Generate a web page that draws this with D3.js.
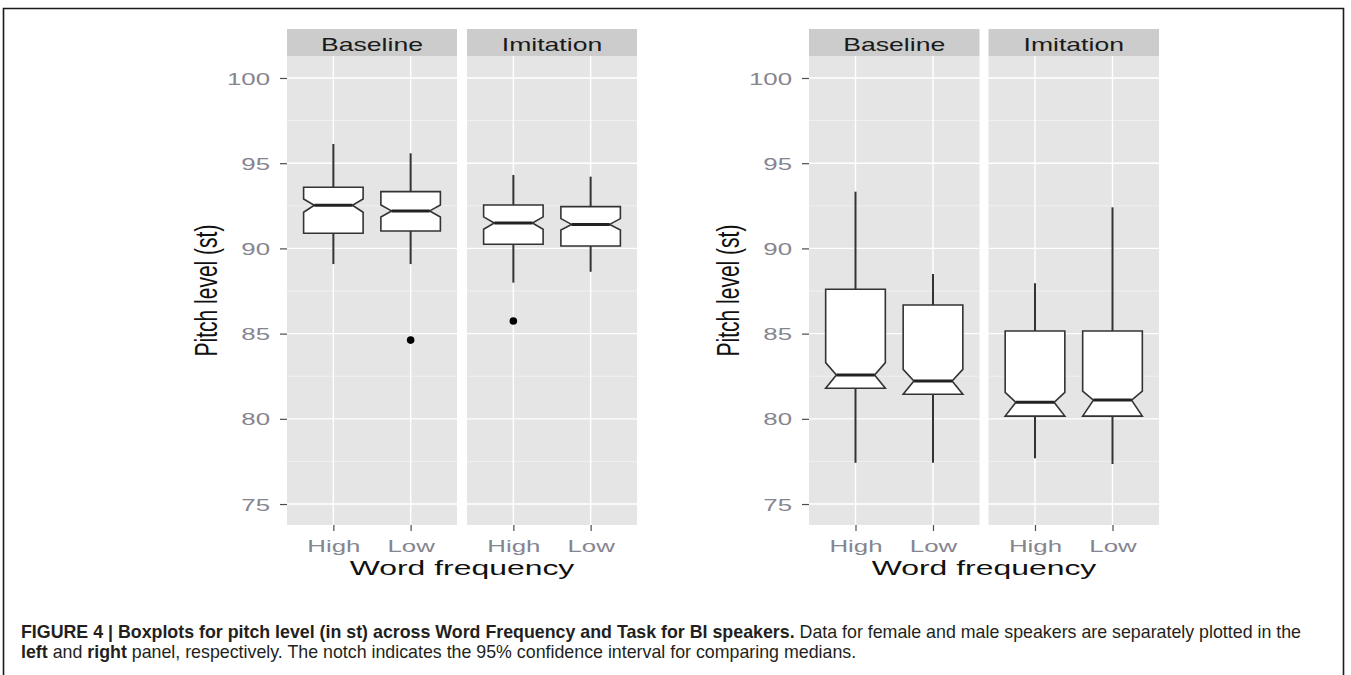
<!DOCTYPE html>
<html><head><meta charset="utf-8">
<script src="https://cdn.jsdelivr.net/npm/d3@7"></script>
<style>body{margin:0;background:#fff}svg{display:block}</style>
</head><body><svg id="c" width="1351" height="675"></svg>
<script>
// ---------------- data ----------------
const frequencies = ["High", "Low"];
const tasks = ["Baseline", "Imitation"];
const yTicks = [75, 80, 85, 90, 95, 100];
const yMinorTicks = [77.5, 82.5, 87.5, 92.5, 97.5];
// order of every array: Baseline-High, Baseline-Low, Imitation-High, Imitation-Low
const femaleLower   = [89.08, 89.08, 87.99, 88.63];
const femaleQ1      = [90.89, 91.02, 90.24, 90.14];
const femaleNotchLo = [92.12, 91.84, 91.12, 91.08];
const femaleMedian  = [92.53, 92.20, 91.49, 91.41];
const femaleNotchHi = [92.90, 92.55, 91.85, 91.75];
const femaleQ3      = [93.59, 93.33, 92.55, 92.45];
const femaleUpper   = [96.13, 95.58, 94.31, 94.21];
const femaleOutliers = [[], [84.62], [85.74], []];

const maleLower   = [77.42, 77.42, 77.68, 77.35];
const maleQ1      = [81.79, 81.44, 80.16, 80.16];
const maleNotchLo = [81.79, 81.44, 80.16, 80.16];
const maleMedian  = [82.57, 82.22, 80.97, 81.10];
const maleNotchHi = [83.30, 82.90, 81.55, 81.62];
const maleQ3      = [87.60, 86.68, 85.15, 85.15];
const maleUpper   = [93.33, 88.50, 87.95, 92.41];
const maleOutliers = [[], [], [], []];

const captionLine1 = [
  ["FIGURE 4 | Boxplots for pitch level (in st) across Word Frequency and Task for BI speakers.", true],
  [" Data for female and male speakers are separately plotted in the", false]
];
const captionLine2 = [
  ["left", true], [" and ", false], ["right", true],
  [" panel, respectively. The notch indicates the 95% confidence interval for comparing medians.", false]
];

function buildStats(lo, q1, nlo, med, nhi, q3, hi, outs) {
  return lo.map((d, i) => ({
    task: tasks[Math.floor(i / 2)], freq: frequencies[i % 2],
    lower: lo[i], q1: q1[i], notchLo: nlo[i], median: med[i],
    notchHi: nhi[i], q3: q3[i], upper: hi[i], outliers: outs[i]
  }));
}
const femaleStats = buildStats(femaleLower, femaleQ1, femaleNotchLo, femaleMedian, femaleNotchHi, femaleQ3, femaleUpper, femaleOutliers);
const maleStats = buildStats(maleLower, maleQ1, maleNotchLo, maleMedian, maleNotchHi, maleQ3, maleUpper, maleOutliers);

// ---------------- layout ----------------
const svg = d3.select("#c");
const SX = 1.52;  // horizontal stretch of the original picture's text
const FONT = "'Liberation Sans', Arial, Helvetica, sans-serif";
const panelTop = 56, panelBottom = 525, stripTop = 29;
const y = d3.scaleLinear().domain([73.77, 101.29]).range([panelBottom, panelTop]);

// outer frame
svg.append("path")
  .attr("d", "M3.5,680 L3.5,8.5 L1343.5,8.5 L1343.5,680")
  .attr("fill", "none").attr("stroke", "#1a1a1a").attr("stroke-width", 1.6);

const plots = [
  { stats: femaleStats, panels: [[287, 457], [467, 637]], yTitleX: 205.5 },
  { stats: maleStats, panels: [[809, 979.5], [988.5, 1159]], yTitleX: 727.5 }
];

plots.forEach(plot => {
  const g = svg.append("g");
  plot.panels.forEach((px, pi) => {
    const task = tasks[pi];
    const x = d3.scalePoint().domain(frequencies).range(px).padding(0.6);
    const step = x.step();
    const boxW = step * 0.77;
    const indent = boxW * 0.18;
    const pg = g.append("g");
    // panel background
    pg.append("rect").attr("x", px[0]).attr("y", panelTop)
      .attr("width", px[1] - px[0]).attr("height", panelBottom - panelTop).attr("fill", "#E5E5E5");
    // strip
    pg.append("rect").attr("x", px[0]).attr("y", stripTop)
      .attr("width", px[1] - px[0]).attr("height", panelTop - stripTop).attr("fill", "#CCCCCC");
    pg.append("text").attr("transform", `translate(${(px[0] + px[1]) / 2},51) scale(${SX},1)`)
      .attr("text-anchor", "middle").attr("font-family", FONT).attr("font-size", 17.5)
      .attr("fill", "#1a1a1a").text(task);
    // grid
    pg.selectAll(".minor").data(yMinorTicks).join("line")
      .attr("x1", px[0]).attr("x2", px[1]).attr("y1", d => y(d)).attr("y2", d => y(d))
      .attr("stroke", "#F2F2F2").attr("stroke-width", 0.9);
    pg.selectAll(".major").data(yTicks).join("line")
      .attr("x1", px[0]).attr("x2", px[1]).attr("y1", d => y(d)).attr("y2", d => y(d))
      .attr("stroke", "#FFFFFF").attr("stroke-width", 1.4);
    pg.selectAll(".vmajor").data(frequencies).join("line")
      .attr("x1", d => x(d)).attr("x2", d => x(d)).attr("y1", panelTop).attr("y2", panelBottom)
      .attr("stroke", "#FFFFFF").attr("stroke-width", 1.4);

    const data = plot.stats.filter(s => s.task === task);
    data.forEach(s => {
      const cx = x(s.freq);
      pg.append("line").attr("x1", cx).attr("x2", cx).attr("y1", y(s.upper)).attr("y2", y(s.q3))
        .attr("stroke", "#333").attr("stroke-width", 2);
      pg.append("line").attr("x1", cx).attr("x2", cx).attr("y1", y(s.q1)).attr("y2", y(s.lower))
        .attr("stroke", "#333").attr("stroke-width", 2);
      const x0 = cx - boxW / 2, x1 = cx + boxW / 2;
      const pts = [
        [x0, y(s.q3)], [x0, y(s.notchHi)], [x0 + indent, y(s.median)], [x0, y(s.notchLo)], [x0, y(s.q1)],
        [x1, y(s.q1)], [x1, y(s.notchLo)], [x1 - indent, y(s.median)], [x1, y(s.notchHi)], [x1, y(s.q3)]
      ];
      pg.append("path").attr("d", d3.line()(pts) + "Z")
        .attr("fill", "#fff").attr("stroke", "#333").attr("stroke-width", 1.6)
        .attr("stroke-linejoin", "miter");
      pg.append("line").attr("x1", x0 + indent).attr("x2", x1 - indent)
        .attr("y1", y(s.median)).attr("y2", y(s.median))
        .attr("stroke", "#222").attr("stroke-width", 3);
      s.outliers.forEach(o => {
        pg.append("circle").attr("cx", cx).attr("cy", y(o)).attr("r", 3.8).attr("fill", "#000");
      });
    });

    // x axis
    const xa = pg.append("g").attr("transform", `translate(0,${panelBottom})`)
      .call(d3.axisBottom(x).tickSize(6).tickSizeOuter(0));
    xa.select(".domain").remove();
    xa.selectAll(".tick line").attr("stroke", "#4d4d4d").attr("stroke-width", 1.2);
    xa.selectAll(".tick text").attr("y", 27).attr("dy", 0)
      .attr("transform", `scale(${SX},1)`)
      .attr("font-family", FONT).attr("font-size", 17).attr("fill", "#858590");
  });

  // y axis
  const ya = g.append("g").attr("transform", `translate(${plot.panels[0][0]},0)`)
    .call(d3.axisLeft(y).tickValues(yTicks).tickSize(7).tickSizeOuter(0));
  ya.select(".domain").remove();
  ya.selectAll(".tick line").attr("stroke", "#4d4d4d").attr("stroke-width", 1.2);
  ya.selectAll(".tick text").attr("x", -17 / SX).attr("dy", "0.36em")
    .attr("transform", `scale(${SX},1)`)
    .attr("font-family", FONT).attr("font-size", 17).attr("fill", "#858590");

  // titles
  const cxAll = (plot.panels[0][0] + plot.panels[1][1]) / 2;
  g.append("text").attr("transform", `translate(${cxAll},575) scale(${SX},1)`)
    .attr("text-anchor", "middle").attr("font-family", FONT).attr("font-size", 21)
    .attr("fill", "#111").text("Word frequency");
  g.append("text").attr("transform", `translate(${plot.yTitleX},${(panelTop + panelBottom) / 2}) scale(${SX},1) rotate(-90)`)
    .attr("text-anchor", "middle").attr("dy", "0.35em").attr("font-family", FONT).attr("font-size", 21)
    .attr("fill", "#111").text("Pitch level (st)");
});

// caption
const CAPFONT = "'Liberation Sans Narrow', 'Arial Narrow', 'Liberation Sans', Arial, sans-serif";
function captionLine(parts) {
  const t = svg.append("text").attr("font-family", CAPFONT).attr("font-size", 17.5).attr("fill", "#231F20")
    .attr("x", 0).attr("y", 0);
  parts.forEach(p => t.append("tspan").attr("font-weight", p[1] ? "bold" : "normal").text(p[0]));
  return t;
}
const c1 = captionLine(captionLine1);
const c2 = captionLine(captionLine2);
const w1 = c1.node().getComputedTextLength();
const s = (1302 - 21) / w1;
c1.attr("transform", `translate(21,638) scale(${s},1)`);
c2.attr("transform", `translate(21,658) scale(${s},1)`);
</script>
</body></html>
